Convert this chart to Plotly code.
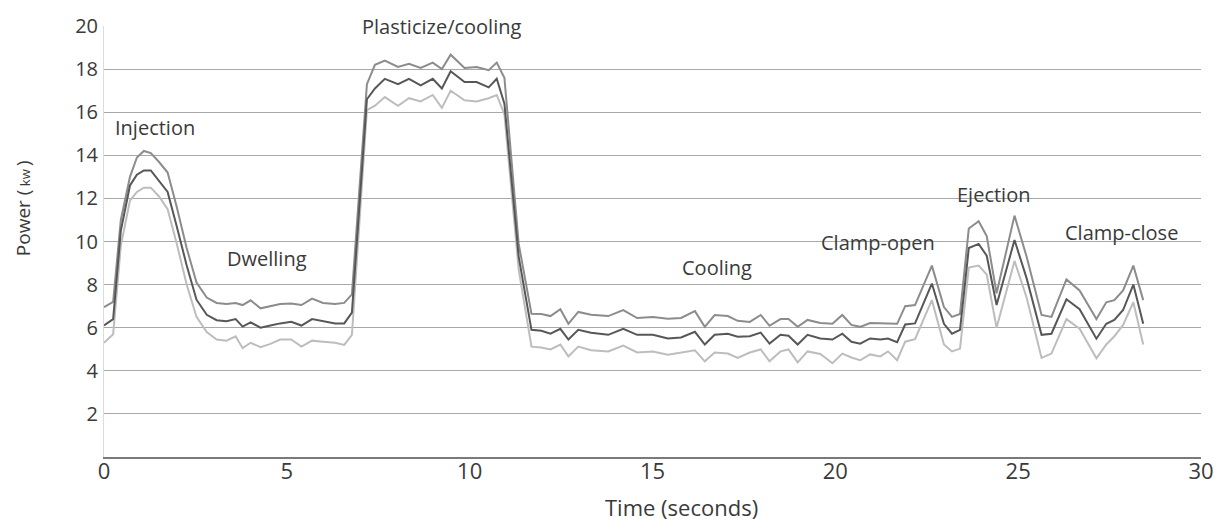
import plotly.graph_objects as go

# Sample times (s) shared by the three power traces
time_s = [0.00, 0.25, 0.46, 0.71, 0.90, 1.09, 1.28, 1.50, 1.74, 1.99, 2.26, 2.53, 2.81,
          3.08, 3.35, 3.60, 3.79, 4.01, 4.28, 4.55, 4.82, 5.12, 5.40, 5.69, 5.99, 6.32,
          6.57, 6.78, 7.19, 7.41, 7.68, 8.04, 8.34, 8.66, 8.99, 9.24, 9.48, 9.86, 10.19,
          10.52, 10.74, 10.95, 11.34, 11.69, 11.96, 12.21, 12.48, 12.70, 12.97, 13.32,
          13.79, 14.20, 14.58, 15.01, 15.42, 15.78, 16.16, 16.43, 16.70, 17.06, 17.33,
          17.66, 17.96, 18.20, 18.50, 18.72, 18.97, 19.24, 19.59, 19.92, 20.19, 20.44,
          20.68, 20.95, 21.23, 21.44, 21.69, 21.91, 22.18, 22.64, 22.97, 23.19, 23.41,
          23.65, 23.92, 24.14, 24.41, 24.90, 25.23, 25.64, 25.91, 26.32, 26.68, 27.14,
          27.41, 27.63, 27.87, 28.15, 28.42]

# Upper envelope (kW)
power_high = [6.95, 7.2, 11.0, 13.0, 13.9, 14.2, 14.1, 13.7, 13.2, 11.6, 9.7, 8.1, 7.4,
              7.15, 7.1, 7.15, 7.05, 7.27, 6.9, 7.0, 7.1, 7.12, 7.05, 7.35, 7.15, 7.1,
              7.15, 7.55, 17.3, 18.2, 18.4, 18.1, 18.25, 18.05, 18.3, 18.0, 18.67, 18.05,
              18.1, 17.95, 18.3, 17.6, 9.9, 6.65, 6.64, 6.54, 6.86, 6.18, 6.73, 6.6,
              6.54, 6.82, 6.45, 6.5, 6.42, 6.45, 6.77, 6.04, 6.59, 6.54, 6.32, 6.27, 6.59,
              6.09, 6.4, 6.4, 6.04, 6.36, 6.22, 6.18, 6.59, 6.13, 6.04, 6.22, 6.22, 6.2,
              6.18, 7.0, 7.05, 8.88, 6.96, 6.5, 6.64, 10.6, 10.94, 10.25, 7.6, 11.2, 9.3,
              6.59, 6.5, 8.24, 7.73, 6.4, 7.18, 7.28, 7.73, 8.88, 7.28]

# Mean trace (kW)
power_mean = [6.1, 6.4, 10.5, 12.6, 13.1, 13.3, 13.3, 12.8, 12.3, 10.7, 8.9, 7.3, 6.6,
              6.35, 6.3, 6.4, 6.05, 6.25, 6.0, 6.1, 6.2, 6.27, 6.1, 6.4, 6.3, 6.2,
              6.2, 6.7, 16.6, 17.1, 17.55, 17.3, 17.55, 17.25, 17.55, 17.1, 17.9, 17.4,
              17.4, 17.15, 17.55, 16.4, 9.3, 5.9, 5.86, 5.72, 5.95, 5.45, 5.9, 5.77,
              5.67, 5.95, 5.67, 5.67, 5.5, 5.55, 5.81, 5.22, 5.67, 5.72, 5.58, 5.6, 5.77,
              5.26, 5.67, 5.63, 5.22, 5.67, 5.5, 5.45, 5.72, 5.35, 5.26, 5.5, 5.45, 5.5,
              5.33, 6.15, 6.2, 8.05, 6.18, 5.72, 5.9, 9.7, 9.89, 9.34, 7.05, 10.07, 8.3,
              5.67, 5.72, 7.32, 6.86, 5.49, 6.18, 6.36, 6.82, 8.0, 6.18]

# Lower envelope (kW)
power_low = [5.3, 5.7, 9.8, 11.9, 12.3, 12.5, 12.5, 12.1, 11.5, 9.9, 8.0, 6.5, 5.8,
             5.45, 5.4, 5.6, 5.05, 5.3, 5.1, 5.25, 5.45, 5.45, 5.12, 5.4, 5.35, 5.3,
             5.2, 5.67, 16.1, 16.3, 16.7, 16.3, 16.65, 16.5, 16.8, 16.2, 17.0, 16.55,
             16.5, 16.65, 16.8, 15.9, 8.7, 5.12, 5.08, 4.99, 5.22, 4.67, 5.12, 4.95,
             4.9, 5.17, 4.85, 4.9, 4.75, 4.85, 4.95, 4.44, 4.85, 4.8, 4.6, 4.85, 4.99,
             4.44, 4.9, 4.99, 4.39, 4.9, 4.78, 4.35, 4.8, 4.62, 4.49, 4.76, 4.67, 4.9,
             4.49, 5.35, 5.47, 7.28, 5.22, 4.9, 5.03, 8.79, 8.88, 8.47, 6.0, 9.1, 7.4,
             4.6, 4.8, 6.4, 5.95, 4.58, 5.22, 5.6, 6.13, 7.18, 5.22]

# Phase labels: text, time, power
phase_text = ["Injection", "Dwelling", "Plasticize/cooling", "Cooling",
              "Clamp-open", "Ejection", "Clamp-close"]
phase_t = [1.39, 4.47, 9.24, 16.76, 21.17, 24.33, 27.82]
phase_p = [15.1, 9.02, 19.77, 8.6, 9.79, 11.99, 10.25]

x_ticks = [0, 5, 10, 15, 20, 25, 30]
y_ticks = [2, 4, 6, 8, 10, 12, 14, 16, 18, 20]

FONT = "Open Sans"
TXT = "#3a3a3a"

fig = go.Figure()
for ys, col in [(power_low, "#bdbdbd"), (power_high, "#8c8c8c"), (power_mean, "#575757")]:
    fig.add_trace(go.Scatter(x=time_s, y=ys, mode="lines",
                             line=dict(color=col, width=2), showlegend=False,
                             hoverinfo="skip"))

for txt, t, p in zip(phase_text, phase_t, phase_p):
    fig.add_annotation(x=t, y=p, text=txt, showarrow=False, yshift=4,
                       font=dict(family=FONT, size=20, color=TXT),
                       bgcolor="white" if txt == "Plasticize/cooling" else None,
                       xanchor="center", yanchor="middle", borderpad=0)

# axis titles
fig.add_annotation(x=-0.074, xref="paper", y=0.577, yref="paper",
                   text="Power (<span style='font-size:13px'> kw </span>)",
                   textangle=-90, showarrow=False, xanchor="center", yanchor="middle",
                   font=dict(family=FONT, size=19, color=TXT))
fig.add_annotation(x=15.8, xref="x", y=-0.117, yref="paper",
                   text="Time (seconds)", showarrow=False,
                   xanchor="center", yanchor="middle",
                   font=dict(family=FONT, size=22, color=TXT))

fig.update_layout(
    width=1226, height=523,
    margin=dict(l=104, r=21, t=20, b=66),
    paper_bgcolor="white", plot_bgcolor="white",
    xaxis=dict(range=[0, 30], tickvals=x_ticks, showgrid=False,
               showline=True, linecolor="#7a7a7a", linewidth=1.5,
               zeroline=False, ticks="", ticklabelstandoff=-6,
               tickfont=dict(family=FONT, size=22, color=TXT)),
    yaxis=dict(range=[0, 20], tickvals=y_ticks, showgrid=True,
               gridcolor="#a8a8a8", gridwidth=1,
               showline=True, linecolor="#dcdcdc", linewidth=1,
               zeroline=False, ticks="", ticklabelstandoff=1,
               tickfont=dict(family=FONT, size=20, color=TXT)),
)

fig.write_html("out.html")
